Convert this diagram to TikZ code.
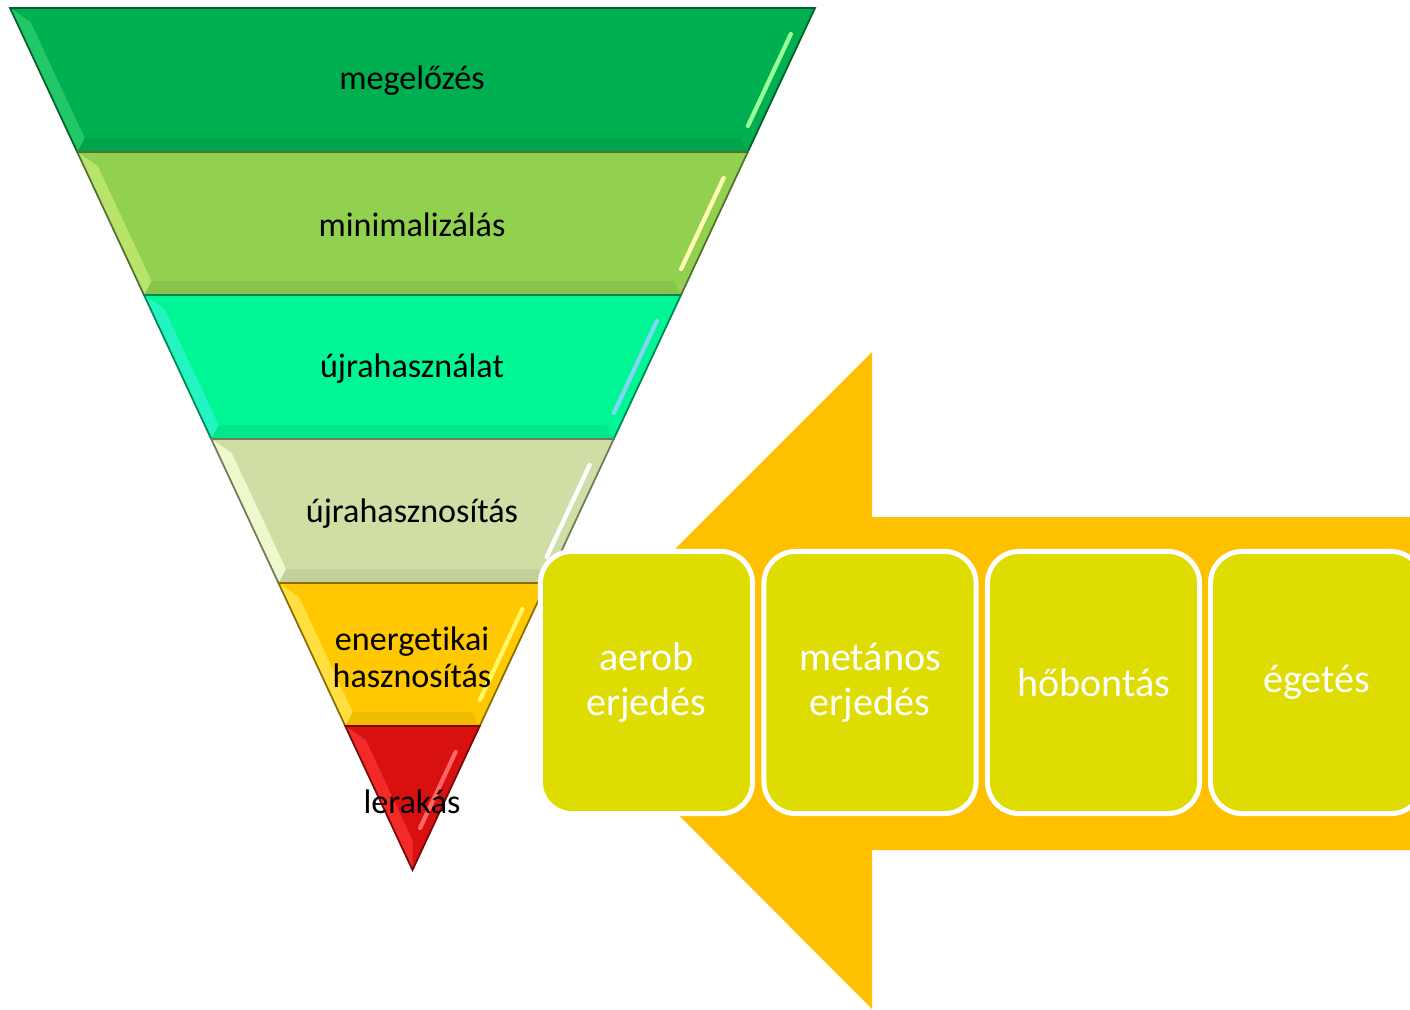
\documentclass[tikz,border=0pt]{standalone}
\usepackage{fontspec}
\setmainfont[Ligatures=NoCommon]{Carlito}

\definecolor{megelozes}{HTML}{00B050}
\definecolor{megelozesfacet}{HTML}{22C868}
\definecolor{minimal}{HTML}{92D050}
\definecolor{minimalfacet}{HTML}{B8E46C}
\definecolor{ujrahaszn}{HTML}{00F595}
\definecolor{ujrahasznfacet}{HTML}{22F5C2}
\definecolor{ujrahasznos}{HTML}{CEDEA5}
\definecolor{ujrahasznosfacet}{HTML}{EEF8CC}
\definecolor{energia}{HTML}{FFC800}
\definecolor{energiafacet}{HTML}{FFE040}
\definecolor{lerakas}{HTML}{D81010}
\definecolor{lerakasfacet}{HTML}{F22A2A}
\definecolor{arrowfill}{HTML}{FFC000}
\definecolor{boxfill}{HTML}{DEDC00}

\tikzset{
  pyrtext/.style={text=black, align=center, font=\fontsize{9.7}{10.5}\selectfont},
  procbox/.style={draw=white, line width=1.4pt, fill=boxfill, rounded corners=9pt,
    minimum width=2.12cm, minimum height=2.62cm, text=white, align=center,
    font=\fontsize{11.4}{12.8}\selectfont}
}

% one bevelled band of the funnel: top y, bottom y, face, left facet, shine
\newcommand\pyrband[5]{%
  \pgfmathsetmacro\pyrwt{0.466937*(870-#1)}%
  \pgfmathsetmacro\pyrwb{0.466937*(870-#2)}%
  \pgfmathsetmacro\pyryti{#1+14}%
  \pgfmathsetmacro\pyrybi{min(#2-14,840)}%
  \pgfmathsetmacro\pyrwti{0.466937*(870-\pyryti)-14}%
  \pgfmathsetmacro\pyrwbi{max(0.466937*(870-\pyrybi)-14,0)}%
  \pgfmathsetmacro\pyrya{\pyryti+12}%
  \pgfmathsetmacro\pyryb{\pyrybi-12}%
  \pgfmathsetmacro\pyrxa{412.5+0.466937*(870-\pyrya)-12}%
  \pgfmathsetmacro\pyrxb{412.5+0.466937*(870-\pyryb)-12}%
  \fill[#3] (412.5-\pyrwt,#1) -- (412.5+\pyrwt,#1) -- (412.5+\pyrwb,#2) -- (412.5-\pyrwb,#2) -- cycle;
  \fill[#3!94!black] (412.5-\pyrwb,#2) -- (412.5+\pyrwb,#2) -- (412.5+\pyrwbi,\pyrybi) -- (412.5-\pyrwbi,\pyrybi) -- cycle;
  \fill[#4] (412.5-\pyrwt,#1) -- (412.5-\pyrwti,\pyryti) -- (412.5-\pyrwbi,\pyrybi) -- (412.5-\pyrwb,#2) -- cycle;
  \draw[#5, line width=1.2pt, line cap=round] (\pyrxa,\pyrya) -- (\pyrxb,\pyryb);
  \draw[#3!55!black, line width=0.5pt] (412.5-\pyrwt,#1) -- (412.5+\pyrwt,#1) -- (412.5+\pyrwb,#2) -- (412.5-\pyrwb,#2) -- cycle;
}

\begin{document}
\begin{tikzpicture}[x=0.01cm, y=-0.01cm]
  \useasboundingbox (0,0) rectangle (1410,1009);
  \clip (0,0) rectangle (1410,1009);

  % funnel
  \pyrband{8}{152}{megelozes}{megelozesfacet}{green!40!white}
  \pyrband{152}{295}{minimal}{minimalfacet}{yellow!30!white}
  \pyrband{295}{439}{ujrahaszn}{ujrahasznfacet}{cyan!50!white}
  \pyrband{439}{583}{ujrahasznos}{ujrahasznosfacet}{white}
  \pyrband{583}{726}{energia}{energiafacet}{yellow!60!white}
  \pyrband{726}{870}{lerakas}{lerakasfacet}{red!60!white}

  \node[pyrtext] (megel) at (412,81) {megelőzés};
  \node[pyrtext] (minim) at (412,225) {minimalizálás};
  \node[pyrtext] (ujhasz) at (412,369) {újrahasználat};
  \node[pyrtext] (ujhaszn) at (412,514) {újrahasznosítás};
  \node[pyrtext] (energ) at (412,657) {energetikai\\hasznosítás};
  \node[pyrtext] (lerak) at (412,802) {lerakás};

  % big arrow
  \fill[arrowfill] (544,680) -- (872,352) -- (872,517) -- (1420,517) -- (1420,850)
    -- (872,850) -- (872,1009) -- cycle;

  % treatments
  \node[procbox] (aerob) at (646.5,682.5) {aerob\\erjedés};
  \node[procbox] (metanos) at (870,682.5) {metános\\erjedés};
  \node[procbox] (hobontas) at (1093.5,682.5) {hőbontás};
  \node[procbox] (egetes) at (1316.5,682.5) {égetés};
\end{tikzpicture}
\end{document}
